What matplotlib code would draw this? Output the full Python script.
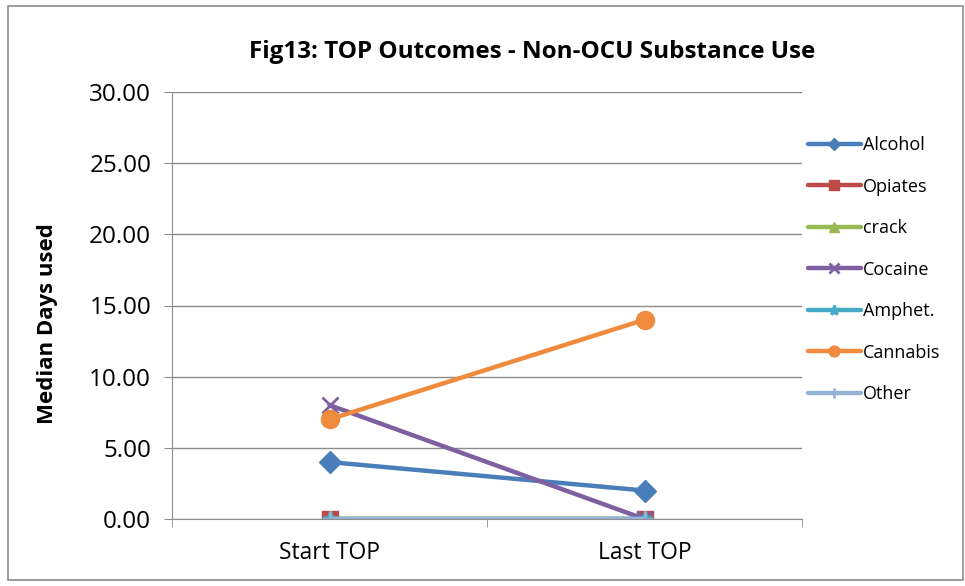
import matplotlib.pyplot as plt
from matplotlib.patches import Rectangle

plt.rcParams['font.family'] = ['Open Sans', 'DejaVu Sans']

categories = ["Start TOP", "Last TOP"]
series_names = ["Alcohol", "Opiates", "crack", "Cocaine", "Amphet.", "Cannabis", "Other"]
alcohol = [4.0, 2.0]
opiates = [0.0, 0.0]
crack = [0.0, 0.0]
cocaine = [8.0, 0.0]
amphet = [0.0, 0.0]
cannabis = [7.0, 14.0]
other = [0.0, 0.0]
y_ticks = [0, 5, 10, 15, 20, 25, 30]

values = [alcohol, opiates, crack, cocaine, amphet, cannabis, other]
colors = ["#4A7EBB", "#BE4B48", "#98B954", "#7D60A0", "#46AAC5", "#F08A3C", "#95B3D7"]
markers = ["D", "s", "^", "x", "*", "o", "+"]
msizes = [11, 11, 11, 11, 11, 13, 11]

fig = plt.figure(figsize=(9.65, 5.86), dpi=100)
fig.patches.append(Rectangle((8 / 965, 6 / 586), 955 / 965, 574 / 586,
                             transform=fig.transFigure, fill=False,
                             edgecolor="#8c8c8c", linewidth=1.2))
ax = fig.add_axes([172 / 965, 1 - 519 / 586, 630 / 965, 427 / 586])

x = list(range(len(categories)))
for name, vals, c, m, ms in zip(series_names, values, colors, markers, msizes):
    mew = 2 if m in ("x", "+", "*") else 1
    ax.plot(x, vals, color=c, linewidth=3.2, marker=m, markersize=ms,
            markeredgewidth=mew, markeredgecolor=c, label=name,
            solid_capstyle="round")

ax.set_xlim(-0.5, 1.5)
ax.set_ylim(0, 30)
ax.set_yticks(y_ticks)
ax.set_yticklabels([f"{v:.2f}" for v in y_ticks], fontsize=17.5)
ax.set_xticks(x)
ax.set_xticklabels(categories, fontsize=16.5)
ax.set_xticks([-0.5, 0.5, 1.5], minor=True)
ax.tick_params(axis="x", which="major", length=0, pad=16)
ax.tick_params(axis="x", which="minor", length=6, color="#8c8c8c", direction="out")
ax.tick_params(axis="y", length=6, color="#8c8c8c", direction="out", pad=9)
ax.grid(axis="y", color="#8c8c8c", linewidth=1)
ax.set_axisbelow(True)
for side in ("top", "right"):
    ax.spines[side].set_visible(False)
for side in ("left", "bottom"):
    ax.spines[side].set_color("#8c8c8c")

fig.text(48 / 965, 1 - 324 / 586, "Median Days used", rotation=90,
         ha="center", va="center", fontsize=16, fontweight="bold")
fig.text(532 / 965, 1 - 52 / 586, "Fig13: TOP Outcomes - Non-OCU Substance Use",
         ha="center", va="center", fontsize=17.5, fontweight="bold")

ax.legend(loc="upper left", bbox_to_anchor=(801 / 965, 1 - 129 / 586),
          bbox_transform=fig.transFigure, frameon=False, fontsize=13,
          handlelength=2.9, handletextpad=0.15, labelspacing=1.3,
          borderaxespad=0, markerscale=0.6)

fig.savefig("out.png", dpi=100)
